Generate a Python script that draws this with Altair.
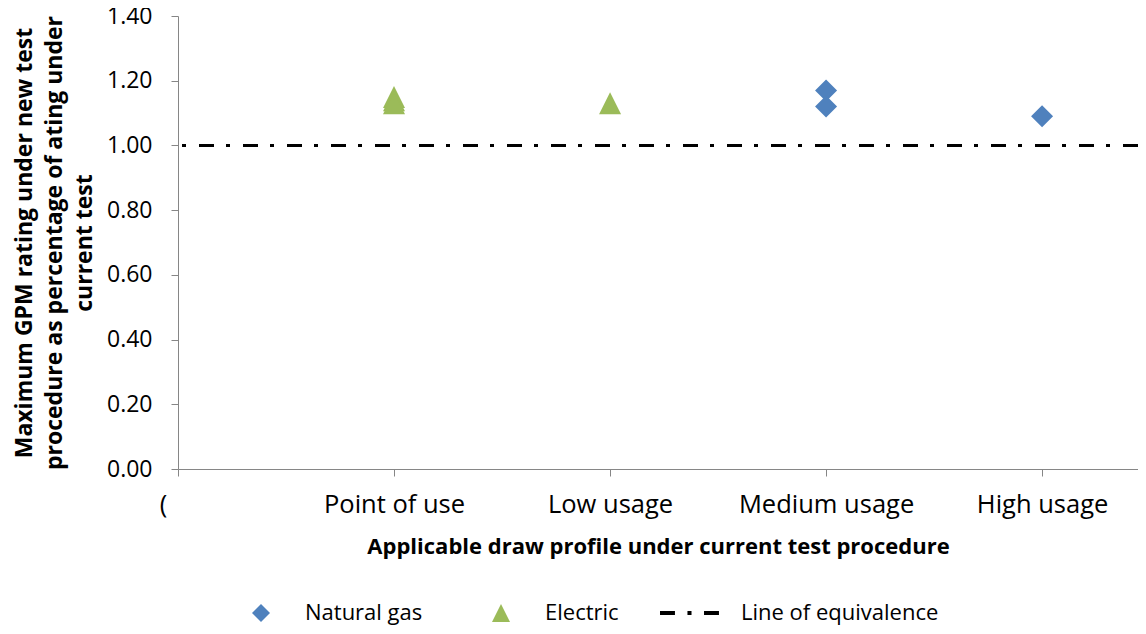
import altair as alt
import pandas as pd

# ---- data ----
categories = ["Point of use", "Low usage", "Medium usage", "High usage"]
category_pos = [1, 2, 3, 4]

gas_category = ["Medium usage", "Medium usage", "High usage"]
gas_value = [1.17, 1.12, 1.09]

electric_category = ["Point of use", "Point of use", "Point of use", "Low usage"]
electric_value = [1.15, 1.14, 1.13, 1.13]

equivalence_value = [1.00]

series_names = ["Natural gas", "Electric", "Line of equivalence"]
series_colors = ["#4F81BD", "#9BBB59", "#000000"]
y_ticks = [0.0, 0.2, 0.4, 0.6, 0.8, 1.0, 1.2, 1.4]
x_ticks = [0, 1, 2, 3, 4]

# ---- tables ----
pos = dict(zip(categories, category_pos))
rows = []
for c, v in zip(gas_category, gas_value):
    rows.append({"pos": pos[c], "value": v, "series": "Natural gas"})
for c, v in zip(electric_category, electric_value):
    rows.append({"pos": pos[c], "value": v, "series": "Electric"})
points_df = pd.DataFrame(rows)
line_df = pd.DataFrame({"value": equivalence_value})

diamond = "M0,-1L1,0L0,1L-1,0Z"
triangle = "M-4.1,0M0,-1L1,1L-1,1Z"
dashdot = ("M-4.11,-0.22H-2.45V0.22H-4.11Z"
           "M-1.06,-0.22H-0.61V0.22H-1.06Z"
           "M0.78,-0.22H2.44V0.22H0.78Z")

FONT = "Open Sans"
label_expr = ("datum.value == 0 ? '(' : datum.value == 1 ? 'Point of use' : "
              "datum.value == 2 ? 'Low usage' : datum.value == 3 ? 'Medium usage' : "
              "datum.value == 4 ? 'High usage' : ''")

x_enc = alt.X(
    "pos:Q",
    scale=alt.Scale(domain=[0, 4.444], nice=False, zero=False),
    axis=alt.Axis(
        values=x_ticks, labelExpr=label_expr, grid=False,
        title="Applicable  draw profile under current test procedure",
        titleFont=FONT, titleFontSize=22, titleFontWeight="bold", titleColor="black",
        titlePadding=19,
        labelFont=FONT, labelFontSize=25.5, labelColor="black", labelPadding=16,
        labelOffset={"condition": {"test": "datum.value == 0", "value": -15}, "value": 0},
        labelFlush=False, labelOverlap=False,
        domainColor="#868686", tickColor="#868686", tickSize=7,
    ),
)
y_axis = alt.Axis(
    values=y_ticks, format=".2f", grid=False,
    title=["Maximum  GPM rating under new test",
           "procedure as percentage of ating under",
           "current test"],
    titleFont=FONT, titleFontSize=23, titleFontWeight="bold", titleColor="black",
    titleLineHeight=30, titlePadding=10,
    labelFont=FONT, labelFontSize=23, labelColor="black", labelPadding=19,
    domainColor="#868686", tickColor="#868686", tickSize=7,
)
y_scale = alt.Scale(domain=[0, 1.4], nice=False)

points = alt.Chart(points_df).mark_point(filled=True, size=484, opacity=1, strokeWidth=0).encode(
    x=x_enc,
    y=alt.Y("value:Q", scale=y_scale, axis=y_axis),
    color=alt.Color(
        "series:N",
        scale=alt.Scale(domain=series_names, range=series_colors),
        legend=alt.Legend(
            title=None, orient="none", legendX=72, legendY=586,
            direction="horizontal", columns=3, columnPadding=41,
            labelFont=FONT, labelFontSize=22, labelColor="black", labelOffset=33,
            symbolSize=324, symbolStrokeWidth=0, symbolOpacity=1,
            padding=0, labelLimit=400,
        ),
    ),
    shape=alt.Shape(
        "series:N",
        scale=alt.Scale(domain=series_names, range=[diamond, triangle, dashdot]),
    ),
)

rule = alt.Chart(line_df).mark_rule(color="black", strokeWidth=3, strokeDash=[15, 13, 4, 12]).encode(
    y=alt.Y("value:Q", scale=y_scale),
)

chart = alt.layer(rule, points).properties(
    width=960, height=453,
    autosize=alt.AutoSizeParams(type="none"),
    padding={"left": 170, "top": 8, "right": 0, "bottom": 157},
    background="white",
).configure_view(stroke=None)

chart.save("out.html", embed_options={"renderer": "svg", "actions": False})
